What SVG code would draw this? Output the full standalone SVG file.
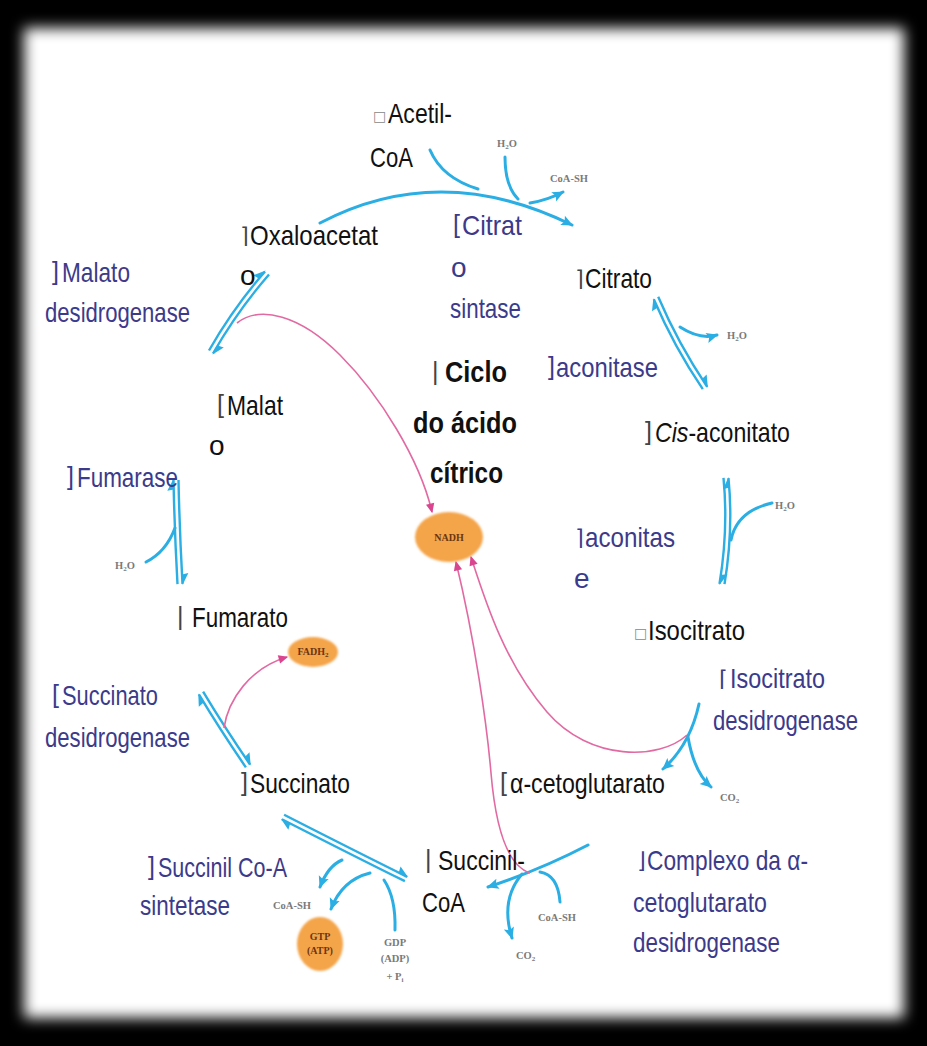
<svg xmlns="http://www.w3.org/2000/svg" width="927" height="1046" viewBox="0 0 927 1046">
<defs>
<style>
.lbl{font-family:"Liberation Sans Narrow","Liberation Sans",Arial,sans-serif;font-size:28px;fill:#111}
.enz{font-family:"Liberation Sans Narrow","Liberation Sans",Arial,sans-serif;font-size:28px;fill:#3C3A8A}
.ttl{font-family:"Liberation Sans Narrow","Liberation Sans",Arial,sans-serif;font-size:29px;font-weight:bold;fill:#111}
.br{font-family:"Liberation Sans Narrow","Liberation Sans",Arial,sans-serif;font-size:25px;fill:#444}
.brb{font-family:"Liberation Sans Narrow","Liberation Sans",Arial,sans-serif;font-size:25px;fill:#3C3A8A}
.cn{font-family:"DejaVu Sans",sans-serif;font-size:22px;fill:#444}
.cnb{font-family:"DejaVu Sans",sans-serif;font-size:22px;fill:#3C3A8A}
.bx{font-family:"DejaVu Sans",sans-serif;font-size:14px;fill:#888}
.sm{font-family:"Liberation Serif",serif;font-size:10.5px;font-weight:bold;fill:#7a7a7a}
.in{font-family:"Liberation Serif",serif;font-size:10px;font-weight:bold;fill:#6b3510;text-anchor:middle}
.blue{fill:none;stroke:#2AAEE3;stroke-width:3;stroke-linecap:round}
.rev{fill:none;stroke:#2AAEE3;stroke-width:2.4}
.pink{fill:none;stroke:#E26AA2;stroke-width:1.6}
.orange{fill:#F4A448}
</style>
<filter id="soft" x="-5%" y="-5%" width="110%" height="110%"><feGaussianBlur stdDeviation="7"/></filter>
<filter id="soft2"><feGaussianBlur stdDeviation="0.8"/></filter>
<marker id="ab" markerUnits="userSpaceOnUse" markerWidth="14" markerHeight="14" viewBox="-10 -6 12 12" refX="0" refY="0" orient="auto"><path d="M1,0 L-9,-4.5 L-7,0 L-9,4.5 Z" fill="#2AAEE3"/></marker>
<marker id="hp" markerUnits="userSpaceOnUse" markerWidth="14" markerHeight="14" viewBox="-10 -7 12 12" refX="0" refY="0" orient="auto"><path d="M1,0 L-9,-5.5 L-8,0 Z" fill="#2AAEE3"/></marker>
<marker id="ap" markerUnits="userSpaceOnUse" markerWidth="12" markerHeight="12" viewBox="-8 -5 10 10" refX="0" refY="0" orient="auto"><path d="M1,0 L-7,-3.5 L-7,3.5 Z" fill="#D9458F"/></marker>
</defs>

<rect x="0" y="0" width="927" height="1046" fill="#000"/>
<rect x="24" y="28" width="880" height="990" fill="#fff" filter="url(#soft)"/>

<g id="connectors">
  <path class="blue" d="M320,223 Q440,160 572,225" marker-end="url(#ab)"/>
  <path class="blue" d="M430,150 Q442,178 478,189"/>
  <path class="blue" d="M505,157 Q505,186 518,199"/>
  <path class="blue" d="M530,203 Q548,200 563,192" marker-end="url(#ab)"/>
  <path class="rev" d="M658.2,296.8 Q678.2,343.8 707.2,386.8" marker-end="url(#hp)"/>
  <path class="rev" d="M702.8,389.2 Q673.8,346.2 653.8,299.2" marker-end="url(#hp)"/>
  <path class="blue" d="M680,327 Q700,340 717,335" marker-end="url(#ab)"/>
  <path class="rev" d="M723.5,477.9 Q728.5,529.9 719.5,583.9" marker-end="url(#hp)"/>
  <path class="rev" d="M724.5,584.1 Q733.5,530.1 728.5,478.1" marker-end="url(#hp)"/>
  <path class="blue" d="M772,503 C750,508 735,520 731,540"/>
  <path class="blue" d="M699,704 Q690,745 663,769" marker-end="url(#ab)"/>
  <path class="blue" d="M688,737 Q694,772 711,787" marker-end="url(#ab)"/>
  <path class="pink" d="M687,735 C660,760 590,762 547,712 S 485,600 471,557" marker-end="url(#ap)"/>
  <path class="blue" d="M588,845 Q540,870 488,887" marker-end="url(#ab)"/>
  <path class="blue" d="M560,902 Q558,875 540,872"/>
  <path class="blue" d="M522,874 Q500,900 512,938" marker-end="url(#ab)"/>
  <path class="pink" d="M530,873 C505,865 495,820 491,773 S 475,640 456,562" marker-end="url(#ap)"/>
  <path class="rev" d="M404.9,881.2 Q354.4,856.2 281.9,819.2" marker-end="url(#hp)"/>
  <path class="rev" d="M284.1,814.8 Q356.6,851.8 407.1,876.8" marker-end="url(#hp)"/>
  <path class="blue" d="M342,860 Q328,866 320,887" marker-end="url(#ab)"/>
  <path class="blue" d="M370,873 Q342,880 331,909" marker-end="url(#ab)"/>
  <path class="blue" d="M395,930 Q396,898 384,880"/>
  <path class="rev" d="M245.9,767.4 Q219.9,729.4 198.9,694.4" marker-end="url(#hp)"/>
  <path class="rev" d="M203.1,691.6 Q224.1,726.6 250.1,764.6" marker-end="url(#hp)"/>
  <path class="pink" d="M224,728 C228,700 250,668 287,657" marker-end="url(#ap)"/>
  <path class="rev" d="M177.5,584.1 Q174.5,530.1 173.5,480.1" marker-end="url(#hp)"/>
  <path class="rev" d="M178.5,479.9 Q179.5,529.9 182.5,583.9" marker-end="url(#hp)"/>
  <path class="blue" d="M146,562 Q166,552 175,528"/>
  <path class="rev" d="M209,350.5 Q233,308.5 265,271.5" marker-end="url(#hp)"/>
  <path class="rev" d="M269,274.5 Q237,311.5 213,353.5" marker-end="url(#hp)"/>
  <path class="pink" d="M237,323 C260,305 300,315 340,355 S 420,460 432,512" marker-end="url(#ap)"/>
</g>

<g id="acetilcoa">
  <text class="bx" x="373" y="121">□</text>
  <text class="lbl" x="388" y="123" textLength="64" lengthAdjust="spacingAndGlyphs">Acetil-</text>
  <text class="lbl" x="370" y="167" textLength="43" lengthAdjust="spacingAndGlyphs">CoA</text>
</g>
<g id="oxaloacetato">
  <text class="cn" x="240" y="243">⌉</text>
  <text class="lbl" x="250" y="245" textLength="128" lengthAdjust="spacingAndGlyphs">Oxaloacetat</text>
  <text class="lbl" x="240" y="285">o</text>
</g>
<g id="citrato-sintase">
  <text class="brb" x="453" y="233">[</text>
  <text class="enz" x="462" y="235" textLength="60" lengthAdjust="spacingAndGlyphs">Citrat</text>
  <text class="enz" x="451" y="277">o</text>
  <text class="enz" x="450" y="318" textLength="71" lengthAdjust="spacingAndGlyphs">sintase</text>
</g>
<g id="citrato">
  <text class="cn" x="575" y="286">⌉</text>
  <text class="lbl" x="585" y="288" textLength="67" lengthAdjust="spacingAndGlyphs">Citrato</text>
</g>
<g id="aconitase1">
  <text class="brb" x="548" y="375">]</text>
  <text class="enz" x="556" y="377" textLength="102" lengthAdjust="spacingAndGlyphs">aconitase</text>
</g>
<g id="cis-aconitato">
  <text class="br" x="645" y="440">]</text>
  <text class="lbl" x="655" y="442" textLength="135" lengthAdjust="spacingAndGlyphs"><tspan font-style="italic">Cis</tspan>-aconitato</text>
</g>
<g id="aconitase2">
  <text class="cnb" x="575" y="545">⌉</text>
  <text class="enz" x="585" y="547" textLength="90" lengthAdjust="spacingAndGlyphs">aconitas</text>
  <text class="enz" x="574" y="588">e</text>
</g>
<g id="isocitrato">
  <text class="bx" x="634" y="638">□</text>
  <text class="lbl" x="648" y="640" textLength="97" lengthAdjust="spacingAndGlyphs">Isocitrato</text>
</g>
<g id="isocitrato-desidrogenase">
  <text class="cnb" x="719" y="686">⌈</text>
  <text class="enz" x="730" y="688" textLength="95" lengthAdjust="spacingAndGlyphs">Isocitrato</text>
  <text class="enz" x="713" y="730" textLength="145" lengthAdjust="spacingAndGlyphs">desidrogenase</text>
</g>
<g id="alfa-cetoglutarato">
  <text class="br" x="500" y="791">[</text>
  <text class="lbl" x="510" y="793" textLength="155" lengthAdjust="spacingAndGlyphs">α-cetoglutarato</text>
</g>
<g id="complexo">
  <text class="cnb" x="637" y="868">⌋</text>
  <text class="enz" x="647" y="870" textLength="161" lengthAdjust="spacingAndGlyphs">Complexo da α-</text>
  <text class="enz" x="633" y="912" textLength="134" lengthAdjust="spacingAndGlyphs">cetoglutarato</text>
  <text class="enz" x="633" y="952" textLength="147" lengthAdjust="spacingAndGlyphs">desidrogenase</text>
</g>
<g id="succinil-coa">
  <text class="br" x="425" y="868">|</text>
  <text class="lbl" x="438" y="870" textLength="87" lengthAdjust="spacingAndGlyphs">Succinil-</text>
  <text class="lbl" x="422" y="912" textLength="43" lengthAdjust="spacingAndGlyphs">CoA</text>
</g>
<g id="succinil-coa-sintetase">
  <text class="brb" x="148" y="875">]</text>
  <text class="enz" x="158" y="877" textLength="129" lengthAdjust="spacingAndGlyphs">Succinil Co-A</text>
  <text class="enz" x="140" y="915" textLength="90" lengthAdjust="spacingAndGlyphs">sintetase</text>
</g>
<g id="succinato">
  <text class="br" x="241" y="791">]</text>
  <text class="lbl" x="250" y="793" textLength="100" lengthAdjust="spacingAndGlyphs">Succinato</text>
</g>
<g id="succinato-desidrogenase">
  <text class="brb" x="52" y="703">[</text>
  <text class="enz" x="62" y="705" textLength="96" lengthAdjust="spacingAndGlyphs">Succinato</text>
  <text class="enz" x="45" y="747" textLength="145" lengthAdjust="spacingAndGlyphs">desidrogenase</text>
</g>
<g id="fumarato">
  <text class="br" x="177" y="625">|</text>
  <text class="lbl" x="192" y="627" textLength="96" lengthAdjust="spacingAndGlyphs">Fumarato</text>
</g>
<g id="fumarase">
  <text class="brb" x="67" y="485">]</text>
  <text class="enz" x="77" y="487" textLength="101" lengthAdjust="spacingAndGlyphs">Fumarase</text>
</g>
<g id="malato">
  <text class="br" x="217" y="413">[</text>
  <text class="lbl" x="227" y="415" textLength="56" lengthAdjust="spacingAndGlyphs">Malat</text>
  <text class="lbl" x="209" y="455">o</text>
</g>
<g id="malato-desidrogenase">
  <text class="brb" x="52" y="280">]</text>
  <text class="enz" x="62" y="282" textLength="68" lengthAdjust="spacingAndGlyphs">Malato</text>
  <text class="enz" x="45" y="322" textLength="145" lengthAdjust="spacingAndGlyphs">desidrogenase</text>
</g>
<g id="titulo">
  <text class="br" x="432" y="380">|</text>
  <text class="ttl" x="445" y="382" textLength="62" lengthAdjust="spacingAndGlyphs">Ciclo</text>
  <text class="ttl" x="413" y="433" textLength="104" lengthAdjust="spacingAndGlyphs">do ácido</text>
  <text class="ttl" x="430" y="483" textLength="73" lengthAdjust="spacingAndGlyphs">cítrico</text>
</g>
<g id="nadh">
  <ellipse class="orange" cx="449" cy="537" rx="34" ry="25" filter="url(#soft2)"/>
  <text class="in" x="449" y="541">NADH</text>
</g>
<g id="fadh2">
  <ellipse class="orange" cx="313" cy="652" rx="25" ry="15" filter="url(#soft2)"/>
  <text class="in" x="313" y="655">FADH<tspan font-size="7" dy="2">2</tspan></text>
</g>
<g id="gtp">
  <ellipse class="orange" cx="320" cy="944" rx="23" ry="27" filter="url(#soft2)"/>
  <text class="in" x="320" y="940">GTP</text>
  <text class="in" x="320" y="954">(ATP)</text>
</g>
<g id="small-labels">
  <text class="sm" x="497" y="147">H<tspan font-size="7" dy="2">2</tspan><tspan dy="-2">O</tspan></text>
  <text class="sm" x="550" y="182">CoA-SH</text>
  <text class="sm" x="727" y="339">H<tspan font-size="7" dy="2">2</tspan><tspan dy="-2">O</tspan></text>
  <text class="sm" x="775" y="509">H<tspan font-size="7" dy="2">2</tspan><tspan dy="-2">O</tspan></text>
  <text class="sm" x="720" y="801">CO<tspan font-size="7" dy="2">2</tspan></text>
  <text class="sm" x="538" y="921">CoA-SH</text>
  <text class="sm" x="516" y="959">CO<tspan font-size="7" dy="2">2</tspan></text>
  <text class="sm" x="115" y="569">H<tspan font-size="7" dy="2">2</tspan><tspan dy="-2">O</tspan></text>
  <text class="sm" x="273" y="909">CoA-SH</text>
  <text class="sm" x="395" y="946" text-anchor="middle">GDP</text>
  <text class="sm" x="395" y="962" text-anchor="middle">(ADP)</text>
  <text class="sm" x="395" y="980" text-anchor="middle">+ P<tspan font-size="7" dy="2">i</tspan></text>
</g>
</svg>
